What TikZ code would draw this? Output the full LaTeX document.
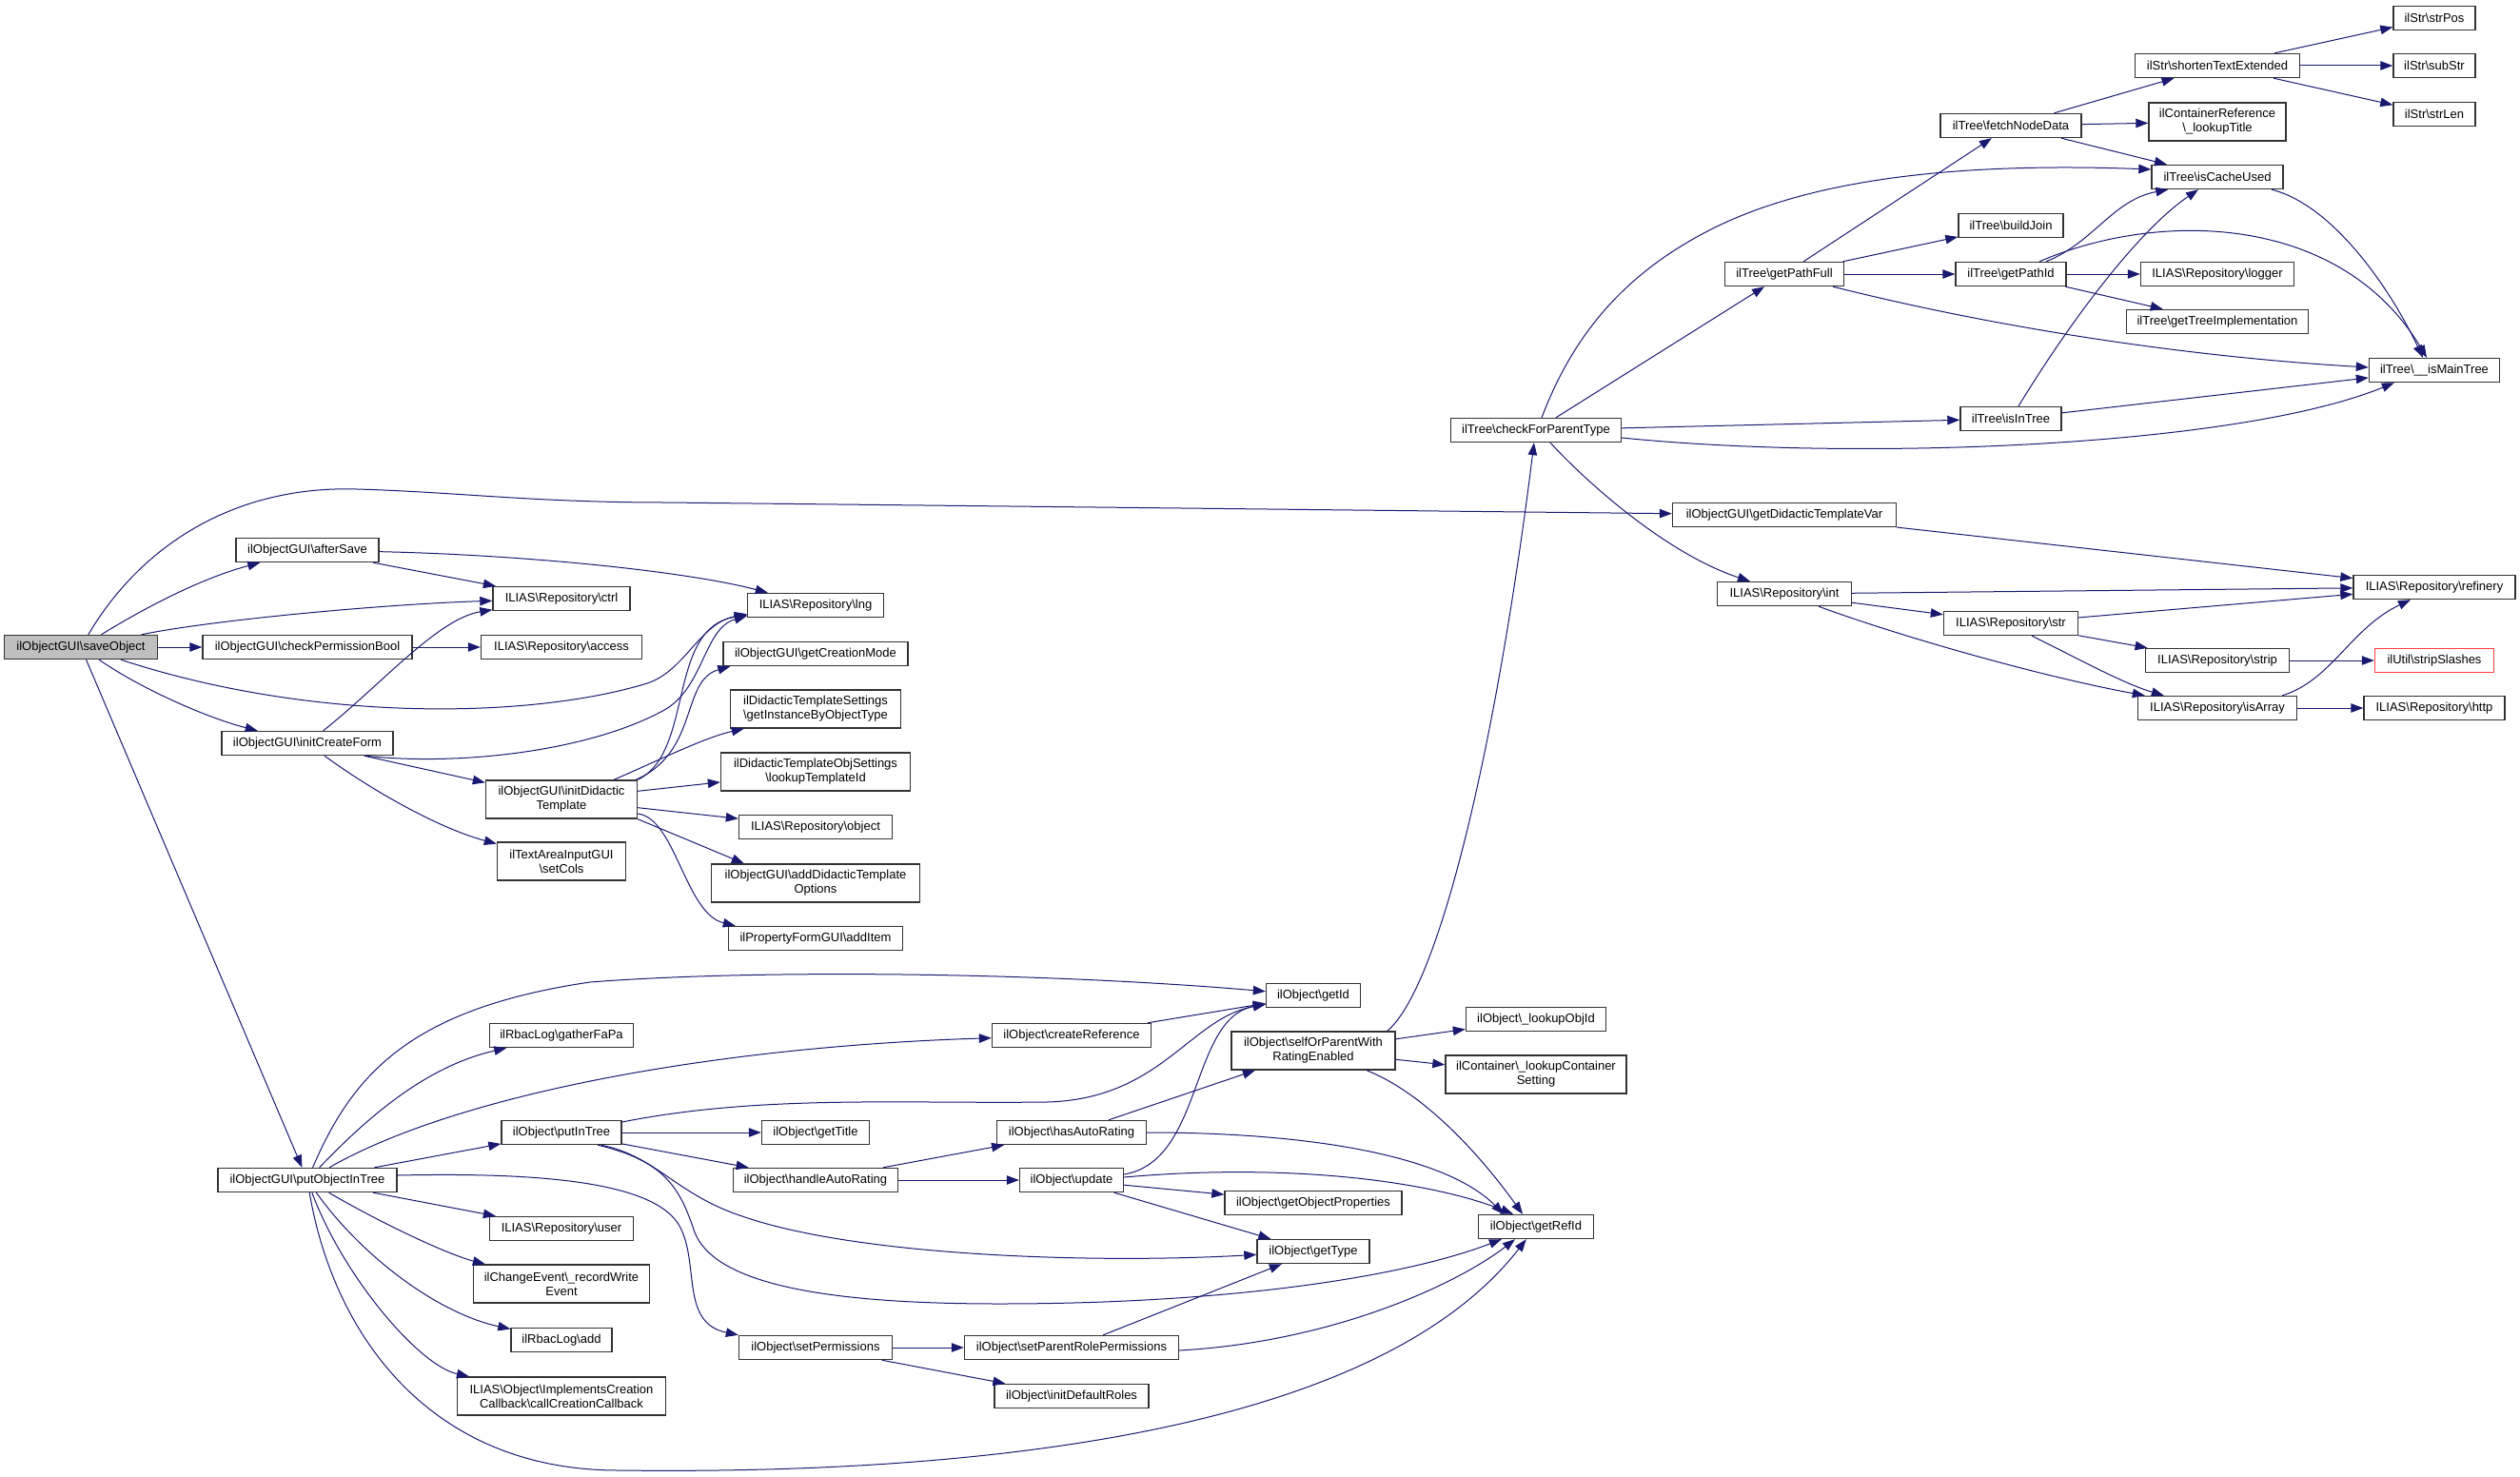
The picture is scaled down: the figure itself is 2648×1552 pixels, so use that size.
\documentclass[tikz,border=0pt]{standalone}
\usepackage{fontspec}
\setmainfont{Liberation Sans}
\usetikzlibrary{arrows.meta}
\definecolor{edgeblue}{HTML}{191970}
\newcommand{\bsh}{\textbackslash}

\begin{document}
\begin{tikzpicture}[
    x=1pt, y=-1pt,
    func/.style={draw=black!80, line width=1.4pt, fill=white, inner sep=0pt, minimum height=25pt, align=center, font=\fontsize{13}{15}\selectfont},
    func2/.style={func, minimum height=40pt},
    root/.style={func, fill=black!25},
    missing/.style={func, draw=red!75},
    link/.style={draw=edgeblue, line width=1pt, -{Triangle[length=13pt, width=9.5pt]}},
]
\useasboundingbox (0,0) rectangle (2648,1552);

% Caller and first level
\node[root, minimum width=161] (save) at (85,680) {ilObjectGUI\bsh saveObject};
\node[func, minimum width=150] (afterSave) at (323,578) {ilObjectGUI\bsh afterSave};
\node[func, minimum width=220] (checkPerm) at (323,680) {ilObjectGUI\bsh checkPermissionBool};
\node[func, minimum width=180] (initCreate) at (323,781) {ilObjectGUI\bsh initCreateForm};
\node[func, minimum width=188] (putObj) at (323,1240) {ilObjectGUI\bsh putObjectInTree};

% Second level
\node[func, minimum width=144] (ctrl) at (590,629) {ILIAS\bsh Repository\bsh ctrl};
\node[func, minimum width=169] (access) at (590,680) {ILIAS\bsh Repository\bsh access};
\node[func2, minimum width=159] (initDid) at (590,840) {ilObjectGUI\bsh initDidactic\\Template};
\node[func2, minimum width=135] (setCols) at (590,905) {ilTextAreaInputGUI\\\bsh setCols};
\node[func, minimum width=151] (gather) at (590,1088) {ilRbacLog\bsh gatherFaPa};
\node[func, minimum width=126] (putInTree) at (590,1190) {ilObject\bsh putInTree};
\node[func, minimum width=151] (user) at (590,1291) {ILIAS\bsh Repository\bsh user};
\node[func2, minimum width=185] (recordWrite) at (590,1349) {ilChangeEvent\bsh\_recordWrite\\Event};
\node[func, minimum width=106] (rbacAdd) at (590,1408) {ilRbacLog\bsh add};
\node[func2, minimum width=219] (callCreation) at (590,1467) {ILIAS\bsh Object\bsh ImplementsCreation\\Callback\bsh callCreationCallback};

% Third level
\node[func, minimum width=143] (lng) at (857,636) {ILIAS\bsh Repository\bsh lng};
\node[func, minimum width=194] (getCreationMode) at (857,687) {ilObjectGUI\bsh getCreationMode};
\node[func2, minimum width=179] (getInstance) at (857,745) {ilDidacticTemplateSettings\\\bsh getInstanceByObjectType};
\node[func2, minimum width=199] (lookupTemplate) at (857,811) {ilDidacticTemplateObjSettings\\\bsh lookupTemplateId};
\node[func, minimum width=161] (object) at (857,869) {ILIAS\bsh Repository\bsh object};
\node[func2, minimum width=219] (addDidOptions) at (857,928) {ilObjectGUI\bsh addDidacticTemplate\\Options};
\node[func, minimum width=183] (addItem) at (857,986) {ilPropertyFormGUI\bsh addItem};
\node[func, minimum width=113] (getTitle) at (857,1190) {ilObject\bsh getTitle};
\node[func, minimum width=173] (handleAuto) at (857,1240) {ilObject\bsh handleAutoRating};
\node[func, minimum width=161] (setPerm) at (857,1416) {ilObject\bsh setPermissions};

% ilObject helpers
\node[func, minimum width=167] (createRef) at (1126,1088) {ilObject\bsh createReference};
\node[func, minimum width=157] (hasAuto) at (1126,1190) {ilObject\bsh hasAutoRating};
\node[func, minimum width=109] (update) at (1126,1240) {ilObject\bsh update};
\node[func, minimum width=225] (setParentRole) at (1126,1416) {ilObject\bsh setParentRolePermissions};
\node[func, minimum width=162] (initDefault) at (1126,1467) {ilObject\bsh initDefaultRoles};
\node[func, minimum width=99] (getId) at (1380,1046) {ilObject\bsh getId};
\node[func2, minimum width=172] (selfOrParent) at (1380,1104) {ilObject\bsh selfOrParentWith\\RatingEnabled};
\node[func, minimum width=186] (getObjProps) at (1380,1264) {ilObject\bsh getObjectProperties};
\node[func, minimum width=118] (getType) at (1380,1315) {ilObject\bsh getType};
\node[func, minimum width=147] (lookupObjId) at (1614,1071) {ilObject\bsh\_lookupObjId};
\node[func2, minimum width=190] (lookupContainer) at (1614,1129) {ilContainer\bsh\_lookupContainer\\Setting};
\node[func, minimum width=121] (getRefId) at (1614,1289) {ilObject\bsh getRefId};

% ilTree and repository
\node[func, minimum width=179] (checkParent) at (1614,452) {ilTree\bsh checkForParentType};
\node[func, minimum width=125] (getPathFull) at (1875,288) {ilTree\bsh getPathFull};
\node[func, minimum width=235] (getDidVar) at (1875,541) {ilObjectGUI\bsh getDidacticTemplateVar};
\node[func, minimum width=141] (int) at (1875,624) {ILIAS\bsh Repository\bsh int};
\node[func, minimum width=148] (fetchNode) at (2113,132) {ilTree\bsh fetchNodeData};
\node[func, minimum width=110] (buildJoin) at (2113,237) {ilTree\bsh buildJoin};
\node[func, minimum width=116] (getPathId) at (2113,288) {ilTree\bsh getPathId};
\node[func, minimum width=106] (isInTree) at (2113,440) {ilTree\bsh isInTree};
\node[func, minimum width=141] (str) at (2113,655) {ILIAS\bsh Repository\bsh str};
\node[func, minimum width=173] (shorten) at (2330,69) {ilStr\bsh shortenTextExtended};
\node[func2, minimum width=144] (containerRef) at (2330,128) {ilContainerReference\\\bsh\_lookupTitle};
\node[func, minimum width=138] (isCacheUsed) at (2330,186) {ilTree\bsh isCacheUsed};
\node[func, minimum width=161] (logger) at (2330,288) {ILIAS\bsh Repository\bsh logger};
\node[func, minimum width=191] (getTreeImpl) at (2330,338) {ilTree\bsh getTreeImplementation};
\node[func, minimum width=151] (strip) at (2330,694) {ILIAS\bsh Repository\bsh strip};
\node[func, minimum width=167] (isArray) at (2330,744) {ILIAS\bsh Repository\bsh isArray};
\node[func, minimum width=86] (strPos) at (2558,19) {ilStr\bsh strPos};
\node[func, minimum width=86] (subStr) at (2558,69) {ilStr\bsh subStr};
\node[func, minimum width=86] (strLen) at (2558,120) {ilStr\bsh strLen};
\node[func, minimum width=137] (isMainTree) at (2558,389) {ilTree\bsh\_\_isMainTree};
\node[func, minimum width=170] (refinery) at (2558,617) {ILIAS\bsh Repository\bsh refinery};
\node[missing, minimum width=125] (stripSlashes) at (2558,694) {ilUtil\bsh stripSlashes};
\node[func, minimum width=148] (http) at (2558,744) {ILIAS\bsh Repository\bsh http};

% saveObject calls
\draw[link] (save) .. controls (150,640) and (210,608) .. (afterSave);
\draw[link] (save) .. controls (220,652) and (400,635) .. (ctrl);
\draw[link] (save) -- (checkPerm);
\draw[link] ([xshift=42pt]save.south) .. controls (330,760) and (560,755) .. (680,718) .. controls (720,705) and (735,655) .. ([yshift=4pt]lng.south west);
\draw[link] (save) .. controls (150,725) and (220,755) .. (initCreate);
\draw[link] (save) -- (putObj);
\draw[link] (save) .. controls (150,570) and (250,510) .. (375,514) .. controls (480,517) and (560,528) .. (700,528) -- (getDidVar);

% afterSave, checkPermissionBool, initCreateForm
\draw[link] (afterSave) -- (ctrl);
\draw[link] (afterSave) .. controls (550,583) and (720,600) .. (lng);
\draw[link] (checkPerm) -- (access);
\draw[link] (initCreate) .. controls (400,720) and (460,650) .. (ctrl);
\draw[link] ([xshift=61pt]initCreate.south) .. controls (480,805) and (620,790) .. (700,745) .. controls (740,720) and (740,660) .. ([yshift=2pt]lng.south west);
\draw[link] (initCreate) -- (initDid);
\draw[link] (initCreate) .. controls (390,830) and (460,870) .. (setCols);

% initDidacticTemplate calls
\draw[link] (initDid.north east) .. controls (730,790) and (700,660) .. ([yshift=3pt]lng.south west);
\draw[link] ([xshift=-2pt]initDid.north east) .. controls (735,790) and (715,715) .. ([xshift=8pt]getCreationMode.south west);
\draw[link] ([xshift=55pt]initDid.north) .. controls (690,800) and (740,775) .. ([xshift=15pt]getInstance.south west);
\draw[link] (initDid) -- (lookupTemplate);
\draw[link] (initDid) -- (object);
\draw[link] (initDid.south east) -- ([xshift=35pt]addDidOptions.north west);
\draw[link] ([yshift=-15pt]initDid.east) .. controls (710,860) and (720,960) .. ([xshift=8pt]addItem.north west);

% putObjectInTree calls
\draw[link] (putObj) .. controls (370,1130) and (430,1060) .. (620,1032) .. controls (800,1018) and (1100,1022) .. (getId);
\draw[link] (putObj) .. controls (390,1170) and (450,1120) .. (gather);
\draw[link] (putObj) .. controls (480,1150) and (750,1100) .. (createRef);
\draw[link] (putObj) -- (putInTree);
\draw[link] ([yshift=5pt]putObj.east) .. controls (560,1232) and (690,1240) .. (715,1290) .. controls (735,1330) and (715,1390) .. (setPerm.north west);
\draw[link] (putObj) -- (user);
\draw[link] (putObj) .. controls (400,1285) and (470,1318) .. (recordWrite);
\draw[link] (putObj) .. controls (380,1320) and (460,1380) .. (rbacAdd);
\draw[link] (putObj) .. controls (360,1340) and (440,1435) .. (callCreation);
\draw[link] (putObj) .. controls (350,1400) and (450,1545) .. (650,1545) .. controls (1050,1550) and (1450,1500) .. (getRefId);

% putInTree calls
\draw[link] ([yshift=11pt]putInTree.east) .. controls (800,1150) and (950,1160) .. (1100,1158) .. controls (1220,1155) and (1250,1070) .. (getId);
\draw[link] (putInTree) -- (getTitle);
\draw[link] (putInTree) -- (handleAuto);
\draw[link] ([xshift=42pt]putInTree.south) .. controls (690,1215) and (710,1255) .. (780,1278) .. controls (900,1320) and (1150,1328) .. (getType);
\draw[link] ([xshift=38pt]putInTree.south) .. controls (700,1220) and (715,1250) .. (730,1295) .. controls (750,1345) and (850,1370) .. (1050,1370) .. controls (1300,1370) and (1480,1340) .. ([xshift=25pt]getRefId.south west);

% rating and permissions
\draw[link] (handleAuto) -- (hasAuto);
\draw[link] (handleAuto) -- (update);
\draw[link] (hasAuto) -- (selfOrParent);
\draw[link] (hasAuto.east) .. controls (1380,1190) and (1520,1215) .. ([xshift=-34pt]getRefId.north);
\draw[link] ([yshift=6pt]update.east) .. controls (1265,1220) and (1250,1070) .. (getId);
\draw[link] ([yshift=3pt]update.east) .. controls (1350,1222) and (1500,1240) .. ([xshift=-24pt]getRefId.north);
\draw[link] (update) -- (getObjProps);
\draw[link] (update) -- (getType);
\draw[link] (createRef) -- (getId);
\draw[link] (setPerm) -- (setParentRole);
\draw[link] (setPerm) -- (initDefault);
\draw[link] (setParentRole) -- (getType);
\draw[link] ([yshift=-3pt]setParentRole.east) .. controls (1400,1410) and (1530,1350) .. ([xshift=-22pt]getRefId.south);
\draw[link] ([xshift=-9pt]selfOrParent.north east) .. controls (1510,1040) and (1570,800) .. ([xshift=-2pt]checkParent.south);
\draw[link] (selfOrParent) -- (lookupObjId);
\draw[link] (selfOrParent) -- (lookupContainer);
\draw[link] ([xshift=56pt]selfOrParent.south) .. controls (1500,1150) and (1560,1220) .. ([xshift=-14pt]getRefId.north);

% checkForParentType calls
\draw[link] (checkParent) -- (getPathFull);
\draw[link] ([xshift=6pt]checkParent.north) .. controls (1650,360) and (1700,290) .. (1800,240) .. controls (1900,190) and (2050,170) .. ([yshift=8pt]isCacheUsed.west);
\draw[link] (checkParent) -- (isInTree);
\draw[link] ([yshift=-8pt]checkParent.east) .. controls (1950,485) and (2350,470) .. ([xshift=27pt]isMainTree.south west);
\draw[link] ([xshift=15pt]checkParent.south) .. controls (1680,520) and (1760,585) .. ([xshift=-36pt]int.north);

% ilTree internals
\draw[link] (getPathFull) -- (fetchNode);
\draw[link] (getPathFull) -- (buildJoin);
\draw[link] (getPathFull) -- (getPathId);
\draw[link] ([xshift=51pt]getPathFull.south) .. controls (2100,345) and (2300,375) .. ([yshift=3pt]isMainTree.west);
\draw[link] ([xshift=37pt]getPathId.north) .. controls (2200,255) and (2220,210) .. ([xshift=18pt]isCacheUsed.south west);
\draw[link] ([xshift=30pt]getPathId.north) .. controls (2270,220) and (2460,225) .. ([xshift=-8pt]isMainTree.north);
\draw[link] (getPathId) -- (logger);
\draw[link] (getPathId) -- (getTreeImpl);
\draw[link] (fetchNode) -- (shorten);
\draw[link] (fetchNode) -- (containerRef);
\draw[link] (fetchNode) -- (isCacheUsed);
\draw[link] ([xshift=8pt]isInTree.north) .. controls (2180,330) and (2250,240) .. ([xshift=-20pt]isCacheUsed.south);
\draw[link] (isInTree) -- (isMainTree);
\draw[link] ([xshift=57pt]isCacheUsed.south) .. controls (2450,215) and (2510,300) .. ([xshift=-12pt]isMainTree.north);
\draw[link] (shorten) -- (strPos);
\draw[link] (shorten) -- (subStr);
\draw[link] (shorten) -- (strLen);

% refinery and friends
\draw[link] (getDidVar) -- (refinery);
\draw[link] (int) -- (refinery);
\draw[link] (int) -- (str);
\draw[link] ([xshift=36pt]int.south) .. controls (2000,670) and (2150,712) .. ([xshift=8pt]isArray.north west);
\draw[link] (str) -- (refinery);
\draw[link] (str) -- (strip);
\draw[link] ([xshift=22pt]str.south) .. controls (2180,690) and (2230,718) .. ([xshift=28pt]isArray.north west);
\draw[link] (strip) -- (stripSlashes);
\draw[link] ([xshift=-16pt]isArray.north east) .. controls (2450,715) and (2470,660) .. ([xshift=-25pt]refinery.south);
\draw[link] (isArray) -- (http);

\end{tikzpicture}
\end{document}
